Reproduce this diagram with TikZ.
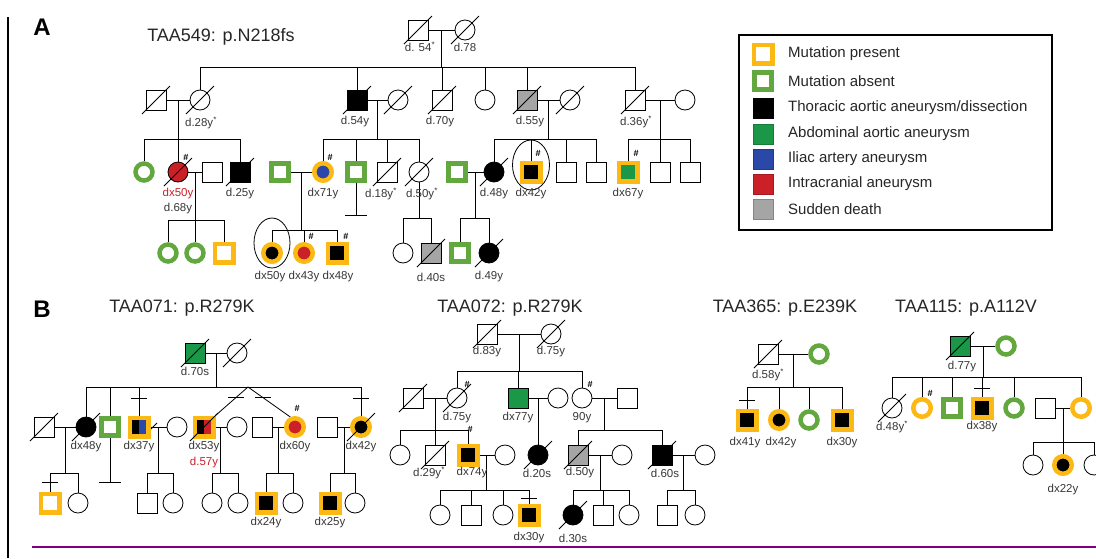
\documentclass[tikz,border=0pt]{standalone}
\usepackage{fontspec}
\setmainfont{Liberation Sans}
\usetikzlibrary{calc,shapes.geometric}
\definecolor{myyel}{RGB}{253,185,19}
\definecolor{mygrn}{RGB}{98,168,62}
\definecolor{abgrn}{RGB}{26,152,72}
\definecolor{myblu}{RGB}{42,72,168}
\definecolor{myred}{RGB}{204,32,40}
\definecolor{mygry}{RGB}{165,165,165}
\definecolor{mypur}{RGB}{128,0,128}
\definecolor{labc}{RGB}{55,55,55}
\pgfdeclarelayer{bg}\pgfsetlayers{bg,main}
\newcommand\dead[1]{\draw[ln] ([shift={(-14,14)}]#1.center) -- ([shift={(14,-14)}]#1.center);}
\newcommand\drop[2]{\draw[ln] (#1.north) -- (#1.north |- #2);}
\newcommand\xbar[1]{\draw[ln] ([xshift=-8pt]#1) -- ([xshift=8pt]#1);}
\newcommand\nobar[1]{\draw[ln] ([xshift=-11pt]#1) -- ([xshift=11pt]#1);}
\newcommand\sibl[3]{\draw[ln] (#1.north |- #3) -- (#2.north |- #3);}
\begin{document}
\begin{tikzpicture}[x=1pt,y=-1pt,
 ln/.style={line width=0.8pt, draw=black},
 sq/.style={rectangle, draw=black, line width=0.8pt, minimum size=20pt, inner sep=0pt, fill=white},
 ci/.style={circle, draw=black, line width=0.8pt, minimum size=20pt, inner sep=0pt, fill=white},
 ysq/.style={rectangle, draw=myyel, line width=4.5pt, minimum size=18.5pt, inner sep=0pt, fill=white},
 yci/.style={circle, draw=myyel, line width=4.5pt, minimum size=17.5pt, inner sep=0pt, fill=white},
 gsq/.style={rectangle, draw=mygrn, line width=4.5pt, minimum size=17pt, inner sep=0pt, fill=white},
 gci/.style={circle, draw=mygrn, line width=4.5pt, minimum size=17pt, inner sep=0pt, fill=white},
 lsq/.style={rectangle, line width=0.6pt, minimum size=20pt, inner sep=0pt},
 lab/.style={font=\fontsize{11.5}{11.5}\selectfont, text=labc, inner sep=0pt},
 rlab/.style={lab, text=myred},
 hs/.style={font=\bfseries\fontsize{9}{9}\selectfont, inner sep=0pt},
 ttl/.style={font=\fontsize{18}{18}\selectfont, inner sep=0pt, text=black!85},
 big/.style={font=\bfseries\fontsize{24}{24}\selectfont, inner sep=0pt},
 legt/.style={font=\fontsize{15}{15}\selectfont, anchor=west, inner sep=0pt, text=black!85},
 oval/.style={ellipse, draw=black, line width=0.8pt, inner sep=0pt}
]
\useasboundingbox (0,0) rectangle (1096,558);
\coordinate (bar1) at (8,17); \coordinate (bar2) at (8,558);
\draw[line width=2pt] (bar1) -- (bar2);
\coordinate (pu1) at (32,547); \coordinate (pu2) at (1096,547);
\draw[mypur, line width=1.5pt] (pu1) -- (pu2);

% ================= Panel A
\node[big] (lblA) at (42,27) {A};
\node[ttl] (tA) at (221,37) {TAA549: p.N218fs};
\node[sq] (a1) at (418,30) {};
\node[ci] (a2) at (465,30) {};
\node[lab] (la1) at (420,47) {d. 54\textsuperscript{*}};
\node[lab] (la2) at (465,47) {d.78};
% Gen II
\node[sq] (b1) at (156,100) {};
\node[ci] (b2) at (200,100) {};
\node[sq,fill=black] (b3) at (357,100) {};
\node[ci] (b4) at (398,100) {};
\node[sq] (b5) at (442,100) {};
\node[ci] (b6) at (485,100) {};
\node[sq,fill=mygry] (b7) at (527,100) {};
\node[ci] (b8) at (570,100) {};
\node[sq] (b9) at (635,100) {};
\node[ci] (b10) at (685,100) {};
\node[lab] (lb2) at (201,123) {d.28y\textsuperscript{*}};
\node[lab] (lb3) at (355,122) {d.54y};
\node[lab] (lb5) at (440,122) {d.70y};
\node[lab] (lb7) at (530,122) {d.55y};
\node[lab] (lb9) at (636,122) {d.36y\textsuperscript{*}};
% Gen III
\node[gci] (c1) at (144,172) {};
\node[ci,fill=myred] (c2) at (178,172) {};
\node[sq] (c3) at (212,172) {};
\node[sq,fill=black] (c4) at (240,172) {};
\node[gsq] (c5) at (280,172) {};
\node[yci,fill=myblu] (c6) at (323,172) {};
\node[gsq] (c7) at (356,172) {};
\node[sq] (c8) at (387,172) {};
\node[ci] (c9) at (419,172) {};
\node[gsq] (c10) at (457,172) {};
\node[ci,fill=black] (c11) at (494,172) {};
\node[ysq,fill=black] (c12) at (531,172) {};
\node[sq] (c13) at (566,172) {};
\node[sq] (c14) at (596,172) {};
\node[ysq,fill=abgrn] (c15) at (628,172) {};
\node[sq] (c16) at (660,172) {};
\node[sq] (c17) at (690,172) {};
\node[oval, minimum width=37pt, minimum height=50pt] (ov1) at (531,165) {};
\node[hs] (h1) at (186,157) {\#};
\node[hs] (h2) at (330,157) {\#};
\node[hs] (h3) at (538,153) {\#};
\node[hs] (h4) at (636,153) {\#};
\node[rlab] (lc2) at (178,194) {dx50y};
\node[lab] (lc2b) at (178,209) {d.68y};
\node[lab] (lc4) at (240,194) {d.25y};
\node[lab] (lc6) at (323,194) {dx71y};
\node[lab] (lc8) at (381,194) {d.18y\textsuperscript{*}};
\node[lab] (lc9) at (422,194) {d.50y\textsuperscript{*}};
\node[lab] (lc11) at (494,194) {d.48y};
\node[lab] (lc12) at (531,194) {dx42y};
\node[lab] (lc15) at (628,194) {dx67y};
% Gen IV
\node[gci] (d1) at (168,253) {};
\node[gci] (d2) at (195,253) {};
\node[ysq] (d3) at (224,253) {};
\node[yci,fill=black] (d4) at (272,253) {};
\node[yci,fill=myred] (d5) at (304,253) {};
\node[ysq,fill=black] (d6) at (337,253) {};
\node[ci] (d7) at (403,253) {};
\node[sq,fill=mygry] (d8) at (431,253) {};
\node[gsq] (d9) at (460,253) {};
\node[ci,fill=black] (d10) at (489,253) {};
\node[oval, minimum width=36pt, minimum height=50pt] (ov2) at (272,243) {};
\node[hs] (h5) at (311,236) {\#};
\node[hs] (h6) at (346,236) {\#};
\node[lab] (ld4) at (270,277) {dx50y};
\node[lab] (ld5) at (304,277) {dx43y};
\node[lab] (ld6) at (338,277) {dx48y};
\node[lab] (ld8) at (431,277) {d.40s};
\node[lab] (ld10) at (489,277) {d.49y};

% Legend
\node[draw=black, line width=2.5pt, minimum width=313pt, minimum height=195pt, inner sep=0pt] (legbox) at (895.5,132.5) {};
\node[ysq] (lg1) at (763,54) {};
\node[gsq] (lg2) at (763,81) {};
\node[lsq, fill=black, draw=black] (lg3) at (763,108) {};
\node[lsq, fill=abgrn, draw=abgrn!80!black] (lg4) at (763,134) {};
\node[lsq, fill=myblu, draw=myblu!80!black] (lg5) at (763,159) {};
\node[lsq, fill=myred, draw=myred!80!black] (lg6) at (763,184) {};
\node[lsq, fill=mygry, draw=mygry!80!black] (lg7) at (763,209) {};
\node[legt] (lt1) at (788,54) {Mutation present};
\node[legt] (lt2) at (788,81) {Mutation absent};
\node[legt] (lt3) at (788,108) {Thoracic aortic aneurysm/dissection};
\node[legt] (lt4) at (788,134) {Abdominal aortic aneurysm};
\node[legt] (lt5) at (788,159) {Iliac artery aneurysm};
\node[legt] (lt6) at (788,184) {Intracranial aneurysm};
\node[legt] (lt7) at (788,209) {Sudden death};

% ================= Panel B : TAA071
\node[big] (lblB) at (42,309) {B};
\node[ttl] (tB1) at (182,308) {TAA071: p.R279K};
\node[sq,fill=abgrn] (e1) at (195,353) {};
\node[ci] (e2) at (237,353) {};
\node[lab] (le1) at (195,371) {d.70s};
\node[sq] (f1) at (44,427) {};
\node[ci,fill=black] (f2) at (86,427) {};
\node[gsq] (f3) at (110,427) {};
\node[ysq,fill=myblu] (f4) at (139,427) {};
\node[ci] (f5) at (177,427) {};
\node[ysq,fill=myred] (f6) at (204,427) {};
\node[ci] (f7) at (237,427) {};
\node[sq] (f8) at (262,427) {};
\node[yci,fill=myred] (f9) at (295,427) {};
\node[sq] (f10) at (327,427) {};
\node[yci,fill=black] (f11) at (361,427) {};
\fill[black] ([shift={(-7,-7)}]f4.center) rectangle ([shift={(0,7)}]f4.center);
\fill[black] ([shift={(-7,-7)}]f6.center) rectangle ([shift={(0,7)}]f6.center);
\node[hs] (h7) at (297,408) {\#};
\node[lab] (lf2) at (86,447) {dx48y};
\node[lab] (lf4) at (139,447) {dx37y};
\node[lab] (lf6) at (204,447) {dx53y};
\node[rlab] (lf6b) at (204,463) {d.57y};
\node[lab] (lf9) at (295,447) {dx60y};
\node[lab] (lf11) at (361,447) {dx42y};
\node[ysq] (g1) at (50,503) {};
\node[ci] (g2) at (78,503) {};
\node[sq] (g3) at (147,503) {};
\node[ci] (g4) at (173,503) {};
\node[ci] (g5) at (212,503) {};
\node[ci] (g6) at (238,503) {};
\node[ysq,fill=black] (g7) at (266,503) {};
\node[ci] (g8) at (293,503) {};
\node[ysq,fill=black] (g9) at (330,503) {};
\node[ci] (g10) at (355,503) {};
\node[lab] (lg7b) at (266,523) {dx24y};
\node[lab] (lg9b) at (330,523) {dx25y};

% ================= TAA072
\node[ttl] (tB2) at (510,308) {TAA072: p.R279K};
\node[sq] (hh1) at (487,334) {};
\node[ci] (hh2) at (551,334) {};
\node[lab] (lh1) at (487,352) {d.83y};
\node[lab] (lh2) at (551,352) {d.75y};
\node[sq] (i1) at (413,398) {};
\node[ci] (i2) at (457,398) {};
\node[sq,fill=abgrn] (i3) at (518,398) {};
\node[ci] (i4) at (558,398) {};
\node[ci] (i5) at (582,398) {};
\node[sq] (i6) at (627,398) {};
\node[hs] (h8) at (467,384) {\#};
\node[hs] (h9) at (590,384) {\#};
\node[lab] (li2) at (457,418) {d.75y};
\node[lab] (li3) at (518,418) {dx77y};
\node[lab] (li5) at (582,418) {90y};
\node[ci] (j1) at (400,455) {};
\node[sq] (j2) at (435,455) {};
\node[ysq,fill=black] (j3) at (468,455) {};
\node[ci] (j4) at (505,455) {};
\node[ci,fill=black] (j5) at (538,455) {};
\node[sq,fill=mygry] (j6) at (578,455) {};
\node[ci] (j7) at (622,455) {};
\node[sq,fill=black] (j8) at (662,455) {};
\node[ci] (j9) at (705,455) {};
\node[hs] (h10) at (470,429) {\#};
\node[lab] (lj2) at (429,473) {d.29y\textsuperscript{*}};
\node[lab] (lj3) at (472,473) {dx74y};
\node[lab] (lj5) at (537,473) {d.20s};
\node[lab] (lj6) at (580,473) {d.50y};
\node[lab] (lj8) at (665,473) {d.60s};
\node[ci] (k1) at (440,515) {};
\node[sq] (k2) at (471,515) {};
\node[ci] (k3) at (503,515) {};
\node[ysq,fill=black] (k4) at (529,515) {};
\node[ci,fill=black] (k5) at (573,515) {};
\node[sq] (k6) at (603,515) {};
\node[ci] (k7) at (629,515) {};
\node[sq] (k8) at (667,515) {};
\node[ci] (k9) at (695,515) {};
\node[lab] (lk4) at (529,538) {dx30y};
\node[lab] (lk5) at (573,538) {d.30s};

% ================= TAA365
\node[ttl] (tB3) at (785,308) {TAA365: p.E239K};
\node[sq] (l1) at (768,354) {};
\node[gci] (l2) at (819,354) {};
\node[lab] (ll1) at (768,375) {d.58y\textsuperscript{*}};
\node[ysq,fill=black] (m1) at (747,420) {};
\node[yci,fill=black] (m2) at (779,420) {};
\node[gci] (m3) at (809,420) {};
\node[ysq,fill=black] (m4) at (842,420) {};
\node[lab] (lm1) at (745,443) {dx41y};
\node[lab] (lm2) at (781,443) {dx42y};
\node[lab] (lm4) at (842,443) {dx30y};

% ================= TAA115
\node[ttl] (tB4) at (966,308) {TAA115: p.A112V};
\node[sq,fill=abgrn] (n1) at (960,346) {};
\node[gci] (n2) at (1006,346) {};
\node[lab] (ln1) at (962,367) {d.77y};
\node[ci] (o1) at (892,408) {};
\node[yci] (o2) at (922,408) {};
\node[gsq] (o3) at (952,408) {};
\node[ysq,fill=black] (o4) at (982,408) {};
\node[gci] (o5) at (1014,408) {};
\node[sq] (o6) at (1045,408) {};
\node[yci] (o7) at (1081,408) {};
\node[hs] (h11) at (930,393) {\#};
\node[lab] (lo1) at (892,427) {d.48y\textsuperscript{*}};
\node[lab] (lo4) at (982,427) {dx38y};
\node[ci] (p1) at (1033,465) {};
\node[yci,fill=black] (p2) at (1063,465) {};
\node[ci] (p3) at (1094,465) {};
\node[lab] (lp2) at (1063,490) {dx22y};

% ================= connectors
\begin{pgfonlayer}{bg}
% A
\coordinate (sA0) at (0,67);
\coordinate (sA1) at (0,139);
\coordinate (sA2) at (0,220);
\coordinate (sA3) at (0,230);
\coordinate (sA4) at (0,218);
\draw[ln] (a1) -- (a2);
\coordinate (ma) at ($(a1)!0.5!(a2)$);
\draw[ln] (ma) -- (ma |- sA0);
\sibl{b2}{b9}{sA0}
\foreach \n in {b2,b3,b5,b6,b7,b9} {\drop{\n}{sA0}}
\draw[ln] (b1) -- (b2);
\coordinate (mb1) at ($(b1)!0.5!(b2)$);
\draw[ln] (mb1) -- (c2.north);
\sibl{c1}{c4}{sA1}
\drop{c1}{sA1} \drop{c4}{sA1}
\draw[ln] (b3) -- (b4);
\coordinate (mb3) at ($(b3)!0.5!(b4)$);
\draw[ln] (mb3) -- (mb3 |- sA1);
\sibl{c6}{c9}{sA1}
\foreach \n in {c6,c7,c8,c9} {\drop{\n}{sA1}}
\draw[ln] (b7) -- (b8);
\coordinate (mb7) at ($(b7)!0.5!(b8)$);
\draw[ln] (mb7) -- (mb7 |- sA1);
\sibl{c11}{c14}{sA1}
\foreach \n in {c11,c12,c13,c14} {\drop{\n}{sA1}}
\draw[ln] (b9) -- (b10);
\coordinate (mb9) at ($(b9)!0.5!(b10)$);
\draw[ln] (mb9) -- (mb9 |- sA1);
\sibl{c15}{c17}{sA1}
\foreach \n in {c15,c16,c17} {\drop{\n}{sA1}}
\draw[ln] (c2) -- (c3);
\coordinate (mc2) at ($(c2)!0.5!(c3)$);
\draw[ln] (mc2) -- (mc2 |- sA2);
\sibl{d1}{d3}{sA2}
\foreach \n in {d1,d2,d3} {\drop{\n}{sA2}}
\draw[ln] (c5) -- (c6);
\coordinate (mc5) at ($(c5)!0.5!(c6)$);
\draw[ln] (mc5) -- (mc5 |- sA3);
\sibl{d4}{d6}{sA3}
\foreach \n in {d4,d5,d6} {\drop{\n}{sA3}}
\coordinate (c7e) at (356,215);
\draw[ln] (c7.south) -- (c7e);
\nobar{c7e}
\draw[ln] (c9.south) -- (c9.south |- sA4);
\sibl{d7}{d8}{sA4}
\drop{d7}{sA4} \drop{d8}{sA4}
\draw[ln] (c10) -- (c11);
\coordinate (mc10) at ($(c10)!0.5!(c11)$);
\draw[ln] (mc10) -- (mc10 |- sA4);
\sibl{d9}{d10}{sA4}
\drop{d9}{sA4} \drop{d10}{sA4}
% B TAA071
\coordinate (sB0) at (0,387);
\coordinate (sB0x) at (0,398);
\coordinate (sB1) at (0,473);
\coordinate (sB1x) at (0,482);
\draw[ln] (e1) -- (e2);
\coordinate (me) at ($(e1)!0.5!(e2)$);
\draw[ln] (me) -- (me |- sB0);
\sibl{f2}{f11}{sB0}
\foreach \n in {f2,f3,f4,f11} {\drop{\n}{sB0}}
\coordinate (xf4) at (f4.north |- sB0x); \xbar{xf4}
\coordinate (xf11) at (f11.north |- sB0x); \xbar{xf11}
\coordinate (tw) at (248,387);
\draw[ln] (tw) -- (f6.north east);
\draw[ln] (tw) -- (f9.115);
\coordinate (xt1) at ($(tw)!0.36!(f6.north east)$); \xbar{xt1}
\coordinate (xt2) at ($(tw)!0.36!(f9.115)$); \xbar{xt2}
\draw[ln] (f1) -- (f2);
\coordinate (mf1) at ($(f1)!0.5!(f2)$);
\draw[ln] (mf1) -- (mf1 |- sB1);
\sibl{g1}{g2}{sB1}
\drop{g1}{sB1} \drop{g2}{sB1}
\coordinate (xg1) at (g1.north |- sB1x); \xbar{xg1}
\coordinate (f3e) at (110,482);
\draw[ln] (f3.south) -- (f3e);
\nobar{f3e}
\draw[ln] (f4) -- (f5);
\coordinate (mf4) at ($(f4)!0.5!(f5)$);
\draw[ln] (mf4) -- (mf4 |- sB1);
\coordinate (dv) at (153,427);
\draw[ln] ([shift={(-4,4)}]dv) -- ([shift={(4,-4)}]dv);
\sibl{g3}{g4}{sB1}
\drop{g3}{sB1} \drop{g4}{sB1}
\draw[ln] (f6) -- (f7);
\coordinate (mf6) at ($(f6)!0.5!(f7)$);
\draw[ln] (mf6) -- (mf6 |- sB1);
\sibl{g5}{g6}{sB1}
\drop{g5}{sB1} \drop{g6}{sB1}
\draw[ln] (f8) -- (f9);
\coordinate (mf8) at ($(f8)!0.5!(f9)$);
\draw[ln] (mf8) -- (mf8 |- sB1);
\sibl{g7}{g8}{sB1}
\drop{g7}{sB1} \drop{g8}{sB1}
\draw[ln] (f10) -- (f11);
\coordinate (mf10) at ($(f10)!0.5!(f11)$);
\draw[ln] (mf10) -- (mf10 |- sB1);
\sibl{g9}{g10}{sB1}
\drop{g9}{sB1} \drop{g10}{sB1}
% TAA072
\coordinate (sC0) at (0,371);
\coordinate (sC1) at (0,430);
\coordinate (sC2) at (0,490);
\coordinate (sC2x) at (0,498);
\draw[ln] (hh1) -- (hh2);
\coordinate (mh) at ($(hh1)!0.5!(hh2)$);
\draw[ln] (mh) -- (mh |- sC0);
\sibl{i2}{i5}{sC0}
\foreach \n in {i2,i3,i5} {\drop{\n}{sC0}}
\draw[ln] (i1) -- (i2);
\coordinate (mi1) at ($(i1)!0.5!(i2)$);
\draw[ln] (mi1) -- (mi1 |- sC1);
\sibl{j1}{j3}{sC1}
\foreach \n in {j1,j2,j3} {\drop{\n}{sC1}}
\draw[ln] (i3) -- (i4);
\coordinate (mi3) at ($(i3)!0.5!(i4)$);
\draw[ln] (mi3) -- (j5.north);
\draw[ln] (i5) -- (i6);
\coordinate (mi5) at ($(i5)!0.5!(i6)$);
\draw[ln] (mi5) -- (mi5 |- sC1);
\sibl{j6}{j8}{sC1}
\drop{j6}{sC1} \drop{j8}{sC1}
\draw[ln] (j3) -- (j4);
\coordinate (mj3) at ($(j3)!0.5!(j4)$);
\draw[ln] (mj3) -- (mj3 |- sC2);
\sibl{k1}{k4}{sC2}
\foreach \n in {k1,k2,k3,k4} {\drop{\n}{sC2}}
\coordinate (xk4) at (k4.north |- sC2x); \xbar{xk4}
\draw[ln] (j6) -- (j7);
\coordinate (mj6) at ($(j6)!0.5!(j7)$);
\draw[ln] (mj6) -- (mj6 |- sC2);
\sibl{k5}{k7}{sC2}
\foreach \n in {k5,k6,k7} {\drop{\n}{sC2}}
\draw[ln] (j8) -- (j9);
\coordinate (mj8) at ($(j8)!0.5!(j9)$);
\draw[ln] (mj8) -- (mj8 |- sC2);
\sibl{k8}{k9}{sC2}
\drop{k8}{sC2} \drop{k9}{sC2}
% TAA365
\coordinate (sD0) at (0,387);
\coordinate (sD0x) at (0,400);
\draw[ln] (l1) -- (l2);
\coordinate (ml) at ($(l1)!0.5!(l2)$);
\draw[ln] (ml) -- (ml |- sD0);
\sibl{m1}{m4}{sD0}
\foreach \n in {m1,m2,m3,m4} {\drop{\n}{sD0}}
\coordinate (xm1) at (m1.north |- sD0x); \xbar{xm1}
% TAA115
\coordinate (sE0) at (0,377);
\coordinate (sE0x) at (0,388);
\coordinate (sE1) at (0,442);
\draw[ln] (n1) -- (n2);
\coordinate (mn) at ($(n1)!0.5!(n2)$);
\draw[ln] (mn) -- (mn |- sE0);
\sibl{o1}{o7}{sE0}
\foreach \n in {o1,o2,o3,o4,o5,o7} {\drop{\n}{sE0}}
\coordinate (xo4) at (o4.north |- sE0x); \xbar{xo4}
\draw[ln] (o6) -- (o7);
\coordinate (mo6) at ($(o6)!0.5!(o7)$);
\draw[ln] (mo6) -- (mo6 |- sE1);
\sibl{p1}{p3}{sE1}
\foreach \n in {p1,p2,p3} {\drop{\n}{sE1}}
\end{pgfonlayer}

% deceased slashes
\foreach \n in {a1,a2,b1,b2,b3,b4,b5,b7,b8,b9,c2,c4,c8,c9,c11,d8,d10,
  e1,e2,f1,f2,f6,f11,hh1,hh2,i1,i2,j2,j5,j6,j8,k5,l1,n1,o1} {\dead{\n}}
\end{tikzpicture}
\end{document}
